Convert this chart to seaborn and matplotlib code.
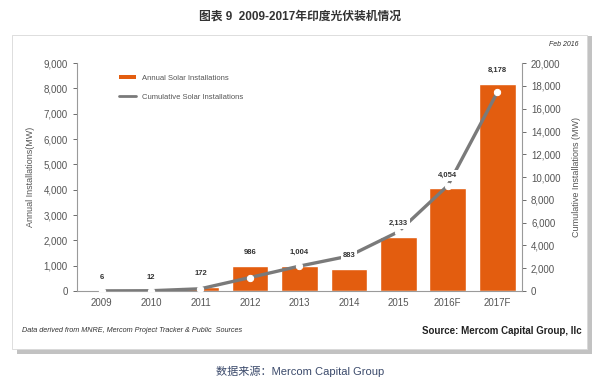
import seaborn as sns
import matplotlib.pyplot as plt
import pandas as pd
from matplotlib.patches import Rectangle, Patch
from matplotlib.lines import Line2D
from matplotlib.ticker import FuncFormatter

sns.set_style("white")
plt.rcParams['font.family'] = ['Liberation Sans', 'Noto Sans CJK SC', 'DejaVu Sans']

# data
years = ["2009", "2010", "2011", "2012", "2013", "2014", "2015", "2016F", "2017F"]
annual = [6, 12, 172, 986, 1004, 883, 2133, 4054, 8178]
cumulative = [6, 18, 190, 1176, 2180, 3063, 5196, 9250, 17428]

df = pd.DataFrame({"Year": years, "Annual": annual, "Cumulative": cumulative})

bar_color = "#E35D0F"
line_color = "#7a7a7a"
tick_color = "#555555"

fig = plt.figure(figsize=(6, 3.9), dpi=100)

# framed panel with drop shadow
fig.patches.append(Rectangle((0.028, 0.093), 0.958, 0.815, transform=fig.transFigure,
                             facecolor="#9a9a9a", edgecolor="none", zorder=-2, alpha=0.6))
fig.patches.append(Rectangle((0.02, 0.105), 0.958, 0.805, transform=fig.transFigure,
                             facecolor="white", edgecolor="#d8d8d8", lw=0.6, zorder=-1))

ax = fig.add_axes([0.128, 0.254, 0.742, 0.584])
ax.patch.set_alpha(0)

sns.barplot(data=df, x="Year", y="Annual", color=bar_color, width=0.74,
            saturation=1, ax=ax, zorder=2)
ax.set_ylim(0, 9000)
ax.set_xlim(-0.45, 8.5)
ax.set_yticks(range(0, 9001, 1000))
ax.yaxis.set_major_formatter(FuncFormatter(lambda v, p: f"{int(v):,}"))
ax.set_xlabel("")
ax.set_ylabel("Annual Installations(MW)", fontsize=6.5, color=tick_color, labelpad=6)

ax2 = ax.twinx()
sns.lineplot(data=df, x="Year", y="Cumulative", color=line_color, lw=2.4,
             marker="o", markersize=4.5, markerfacecolor="white",
             markeredgecolor="white", ax=ax2, zorder=3, sort=False)
ax2.set_ylim(0, 20000)
ax2.set_yticks(range(0, 20001, 2000))
ax2.yaxis.set_major_formatter(FuncFormatter(lambda v, p: f"{int(v):,}"))
ax2.set_ylabel("Cumulative Installations (MW)", fontsize=6.5, color=tick_color, labelpad=8)
ax2.set_xlabel("")

# value labels on top of everything, with white box that breaks the line
for i, v in enumerate(annual):
    ax2.annotate(f"{v:,}", (i, v), xycoords=ax.transData, xytext=(0, 7),
                 textcoords="offset points", ha="center", va="bottom",
                 fontsize=5.5, fontweight="bold", color="#333333", zorder=5,
                 bbox=dict(boxstyle="square,pad=0.25", facecolor="white", edgecolor="none"))

for a in (ax, ax2):
    a.spines["top"].set_visible(False)
    for s in ["left", "right", "bottom"]:
        a.spines[s].set_color("#9a9a9a")
        a.spines[s].set_linewidth(0.8)
    a.tick_params(axis="both", labelsize=7, colors=tick_color, length=3, width=0.6)
ax2.spines["left"].set_visible(False)
ax2.spines["bottom"].set_visible(False)
ax.spines["right"].set_visible(False)
ax.tick_params(axis="x", length=0, pad=5)
ax.set_xticks([i + 0.5 for i in range(-1, 9)], minor=True)
ax.tick_params(axis="x", which="minor", length=3, color="#9a9a9a")

handles = [Patch(facecolor=bar_color, edgecolor="none"),
           Line2D([0], [0], color=line_color, lw=2)]
ax.legend(handles, ["Annual Solar Installations", "Cumulative Solar Installations"],
          loc="upper left", bbox_to_anchor=(0.08, 0.98), frameon=False,
          fontsize=5.5, labelcolor="#555555", handlelength=2.2, labelspacing=1.6,
          handleheight=0.5)

fig.text(0.5, 0.957, "图表 9  2009-2017年印度光伏装机情况", ha="center", va="center",
         fontsize=8.5, fontweight="bold", color="#333333")
fig.text(0.94, 0.885, "Feb 2016", ha="center", va="center", fontsize=5,
         style="italic", color="#333333")
fig.text(0.037, 0.152, "Data derived from MNRE, Mercom Project Tracker & Public  Sources",
         ha="left", va="center", fontsize=5.2, style="italic", color="#333333")
fig.text(0.97, 0.152, "Source: Mercom Capital Group, llc", ha="right", va="center",
         fontsize=7, fontweight="bold", color="#222222")
fig.text(0.5, 0.048, "数据来源：Mercom Capital Group", ha="center", va="center",
         fontsize=8, color="#3b4a6b")

plt.savefig("out.png", dpi=100)
plt.close()
